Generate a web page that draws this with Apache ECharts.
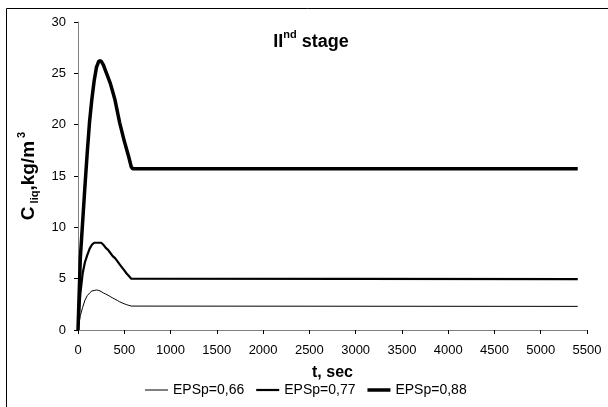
<!DOCTYPE html>
<html>
<head>
<meta charset="utf-8">
<script src="https://cdn.jsdelivr.net/npm/echarts@6/dist/echarts.min.js"></script>
<style>
  html, body { margin: 0; padding: 0; background: #fff; }
  #main { width: 608px; height: 407px; }
</style>
</head>
<body>
<div id="main"></div>
<script>
// time, sec
var time = [0, 25, 50, 75, 100, 125, 150, 175, 200, 225, 250, 275, 300, 325, 350, 375, 400, 425, 450, 475, 500, 525, 550, 575, 590, 5400];

// C liq, kg/m3
var eps066 = [0, 1.4, 2.2, 2.9, 3.35, 3.6, 3.8, 3.85, 3.9, 3.85, 3.75, 3.6, 3.5, 3.38, 3.25, 3.12, 3.0, 2.88, 2.75, 2.65, 2.55, 2.47, 2.4, 2.33, 2.3, 2.3];
var eps077 = [0, 3.5, 5.5, 6.6, 7.3, 7.9, 8.3, 8.5, 8.5, 8.5, 8.5, 8.3, 8.0, 7.8, 7.5, 7.2, 7.0, 6.7, 6.4, 6.1, 5.8, 5.5, 5.25, 5.0, 4.95, 4.95];
var eps088 = [0, 7, 10.5, 14, 17.3, 20.3, 22.5, 24.3, 25.6, 26.2, 26.2, 25.8, 25.2, 24.6, 24.0, 23.2, 22.4, 21.3, 20.2, 19.3, 18.4, 17.6, 16.8, 15.9, 15.7, 15.7];

var names = ['EPSp=0,66', 'EPSp=0,77', 'EPSp=0,88'];
var widths = [1, 2.2, 3.5];

function pairs(ys) {
    return time.map(function (t, i) { return [t, ys[i]]; });
}

// legend line icon of a given thickness inside a 23x10 box
function lineIcon(w) {
    var a = 5 - w / 2, b = 5 + w / 2;
    return 'path://M0,0M0,' + a + 'H23V' + b + 'H0ZM23,10';
}

var font = 'Liberation Sans, Arial, sans-serif';

var myChart = echarts.init(document.getElementById('main'));
var option = {
    animation: false,
    textStyle: { fontFamily: font },
    graphic: [{
        type: 'rect',
        shape: { x: 6.5, y: 8.5, width: 640, height: 430 },
        style: { fill: null, stroke: '#000', lineWidth: 1 },
        silent: true
    }],
    title: {
        text: '{a|II}{s|nd}{a| stage}',
        left: 306,
        top: 24,
        textAlign: 'center',
        textStyle: {
            rich: {
                a: { fontFamily: font, fontSize: 18, fontWeight: 'bold', color: '#000', lineHeight: 22, verticalAlign: 'bottom' },
                s: { fontFamily: font, fontSize: 11, fontWeight: 'bold', color: '#000', lineHeight: 22, verticalAlign: 'top' }
            }
        }
    },
    legend: {
        data: names.map(function (n, i) {
            return { name: n, icon: lineIcon(widths[i]) };
        }),
        bottom: 5,
        left: 140,
        itemWidth: 23,
        itemHeight: 10,
        itemGap: 12,
        textStyle: { fontFamily: font, fontSize: 14, color: '#000', padding: [0, 0, 0, 0] }
    },
    grid: { left: 78, right: 21, top: 22, bottom: 77 },
    xAxis: {
        type: 'value',
        min: 0,
        max: 5500,
        interval: 500,
        name: 't, sec',
        nameLocation: 'middle',
        nameGap: 35,
        nameTextStyle: { fontFamily: font, fontSize: 16, fontWeight: 'bold', color: '#000' },
        axisLine: { lineStyle: { color: '#808080' } },
        axisTick: { show: true, length: 4, lineStyle: { color: '#000' } },
        axisLabel: {
            margin: 14,
            fontFamily: font,
            fontSize: 13,
            color: '#000',
            formatter: function (v) { return String(v); }
        },
        splitLine: { show: false }
    },
    yAxis: {
        type: 'value',
        min: 0,
        max: 30,
        interval: 5,
        name: '{b|C}{s| liq}{b|,kg/m}{p| 3}',
        nameLocation: 'middle',
        nameRotate: 90,
        nameGap: 36,
        nameTextStyle: {
            rich: {
                b: { fontFamily: font, fontSize: 19, fontWeight: 'bold', color: '#000', lineHeight: 24, verticalAlign: 'middle' },
                s: { fontFamily: font, fontSize: 11, fontWeight: 'bold', color: '#000', lineHeight: 24, verticalAlign: 'bottom' },
                p: { fontFamily: font, fontSize: 11, fontWeight: 'bold', color: '#000', lineHeight: 24, verticalAlign: 'top' }
            }
        },
        axisLine: { show: true, lineStyle: { color: '#808080' } },
        axisTick: { show: true, length: 4, lineStyle: { color: '#000' } },
        axisLabel: { margin: 12, fontFamily: font, fontSize: 13, color: '#000' },
        splitLine: { show: false }
    },
    series: names.map(function (n, i) {
        return {
            name: n,
            type: 'line',
            symbol: 'none',
            data: pairs([eps066, eps077, eps088][i]),
            lineStyle: { color: '#000', width: widths[i] },
            itemStyle: { color: '#000' }
        };
    })
};
myChart.setOption(option);
</script>
</body>
</html>
